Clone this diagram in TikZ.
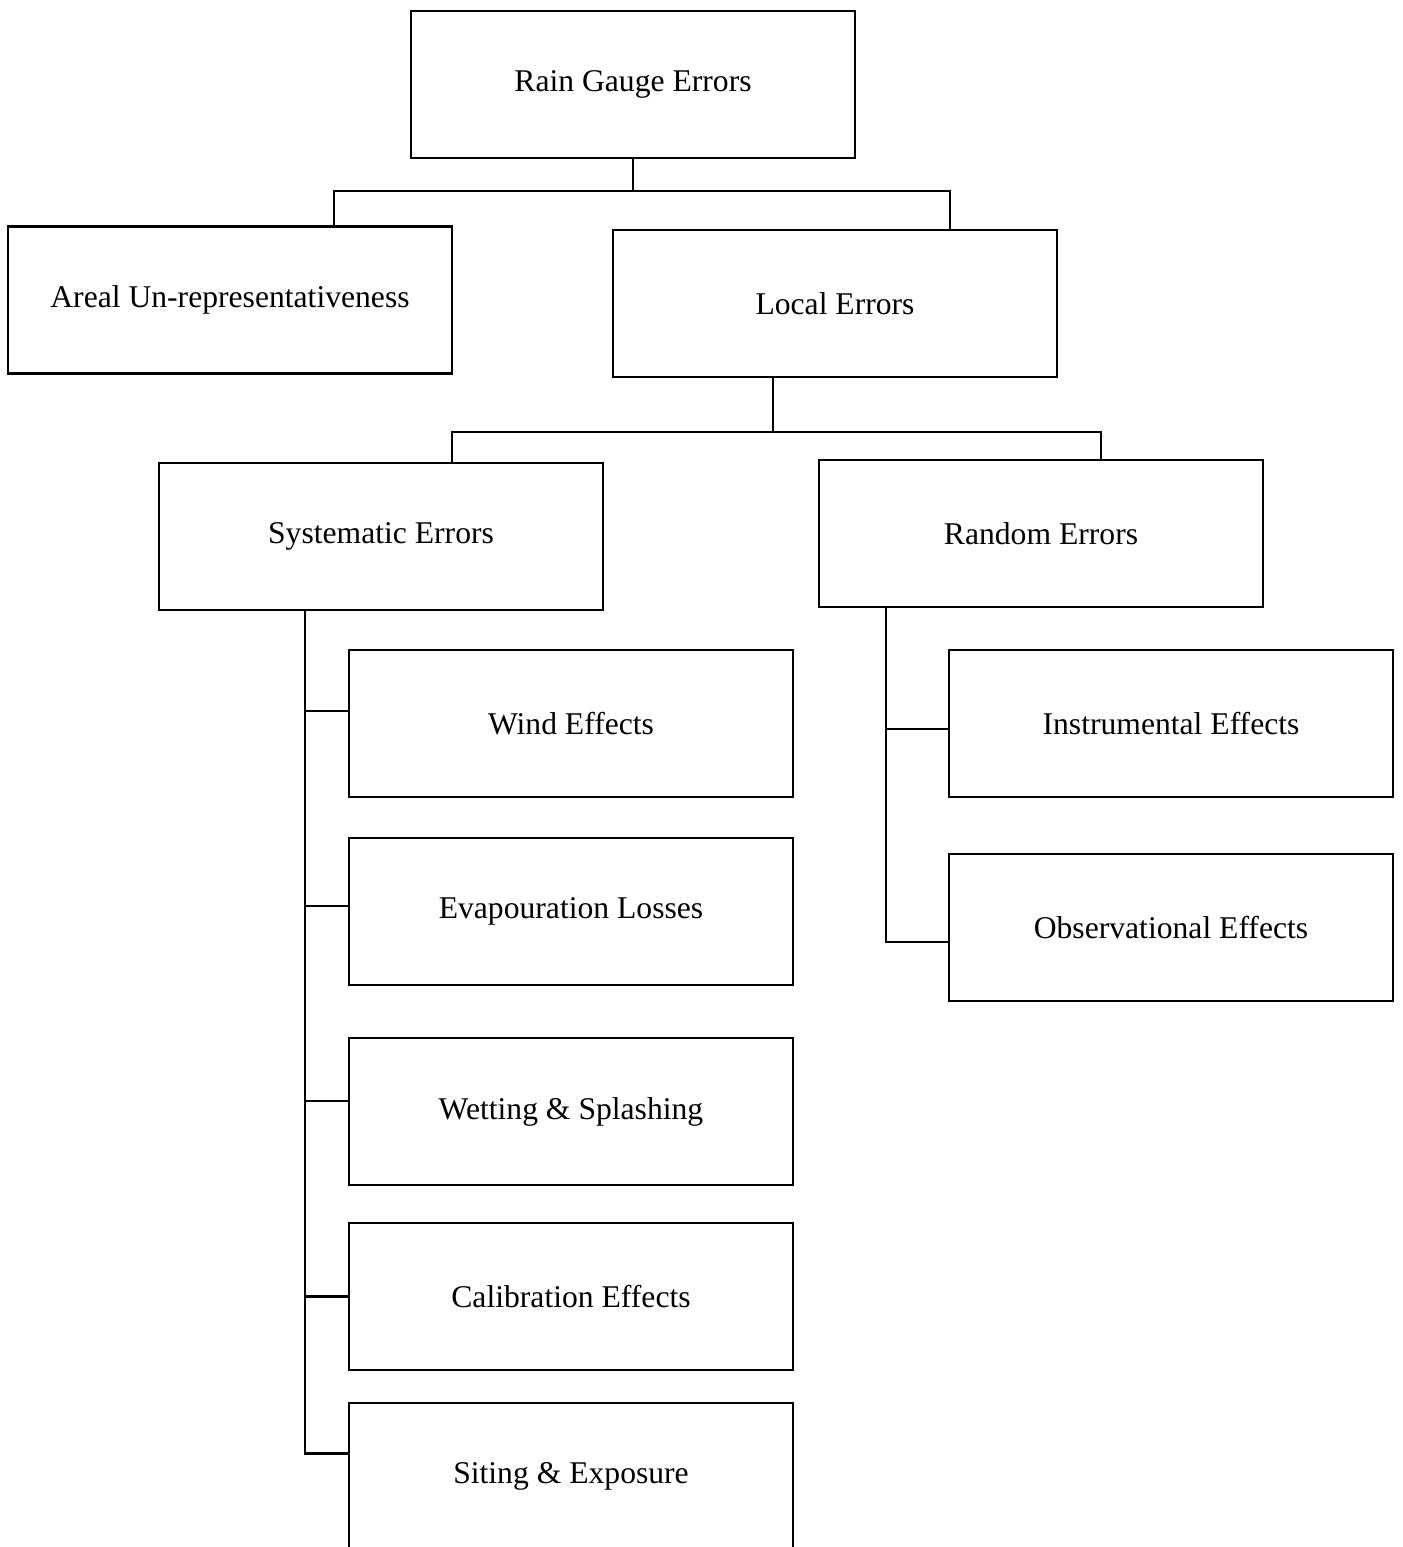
\documentclass[tikz,border=0pt]{standalone}
\usepackage{fontspec}
\setmainfont{Liberation Serif}
\usepackage{tikz}

\tikzset{
    errbox/.style={draw, line width=0.6pt, minimum width=4.44cm, minimum height=1.47cm,
        inner sep=0pt, font=\fontsize{9}{11}\selectfont},
    link/.style={line width=0.6pt}
}

\begin{document}
\begin{tikzpicture}

    \useasboundingbox (0,0) rectangle (14.03,-15.47);
    \clip (0,0) rectangle (14.03,-15.47);

    \coordinate (C1)  at (6.33, -0.845);
    \coordinate (C2)  at (2.30, -3.00);
    \coordinate (C3)  at (8.35, -3.035);
    \coordinate (C4)  at (3.81, -5.365);
    \coordinate (C5)  at (10.41, -5.335);
    \coordinate (C6)  at (5.71, -7.235);
    \coordinate (C7)  at (5.71, -9.115);
    \coordinate (C8)  at (5.71, -11.115);
    \coordinate (C9)  at (5.71, -12.965);
    \coordinate (C10) at (5.71, -14.765);
    \coordinate (C11) at (11.71, -7.235);
    \coordinate (C12) at (11.71, -9.275);

    \node[errbox] (N1)  at (C1)  {Rain Gauge Errors};
    \node[errbox] (N2)  at (C2)  {Areal Un-representativeness};
    \node[errbox] (N3)  at (C3)  {Local Errors};
    \node[errbox] (N4)  at (C4)  {Systematic Errors};
    \node[errbox] (N5)  at (C5)  {Random Errors};
    \node[errbox] (N6)  at (C6)  {Wind Effects};
    \node[errbox] (N7)  at (C7)  {Evapouration Losses};
    \node[errbox] (N8)  at (C8)  {Wetting \& Splashing};
    \node[errbox] (N9)  at (C9)  {Calibration Effects};
    \node[errbox] (N10) at (C10) {Siting \& Exposure};
    \node[errbox] (N11) at (C11) {Instrumental Effects};
    \node[errbox] (N12) at (C12) {Observational Effects};

    \draw [link] (N1.south) -- ++(0,-0.32) coordinate (J1);
    \draw [link] ([xshift=1.04cm]N2.north) |- (J1) -| ([xshift=1.15cm]N3.north);

    \draw [link] ([xshift=-0.62cm]N3.south) -- ++(0,-0.54) coordinate (J2);
    \draw [link] ([xshift=0.71cm]N4.north) |- (J2) -| ([xshift=0.60cm]N5.north);

    \coordinate (T1) at ([xshift=-0.76cm]N4.south);
    \draw [link] ([yshift=0.125cm]N6.west)  -| (T1);
    \draw [link] ([yshift=0.055cm]N7.west)  -| (T1);
    \draw [link] ([yshift=0.105cm]N8.west)  -| (T1);
    \draw [link] (N9.west)                  -| (T1);
    \draw [link] ([yshift=0.23cm]N10.west)  -| (T1);

    \coordinate (T2) at ([xshift=-1.55cm]N5.south);
    \draw [link] ([yshift=-0.055cm]N11.west) -| (T2);
    \draw [link] ([yshift=-0.145cm]N12.west) -| (T2);

\end{tikzpicture}
\end{document}
